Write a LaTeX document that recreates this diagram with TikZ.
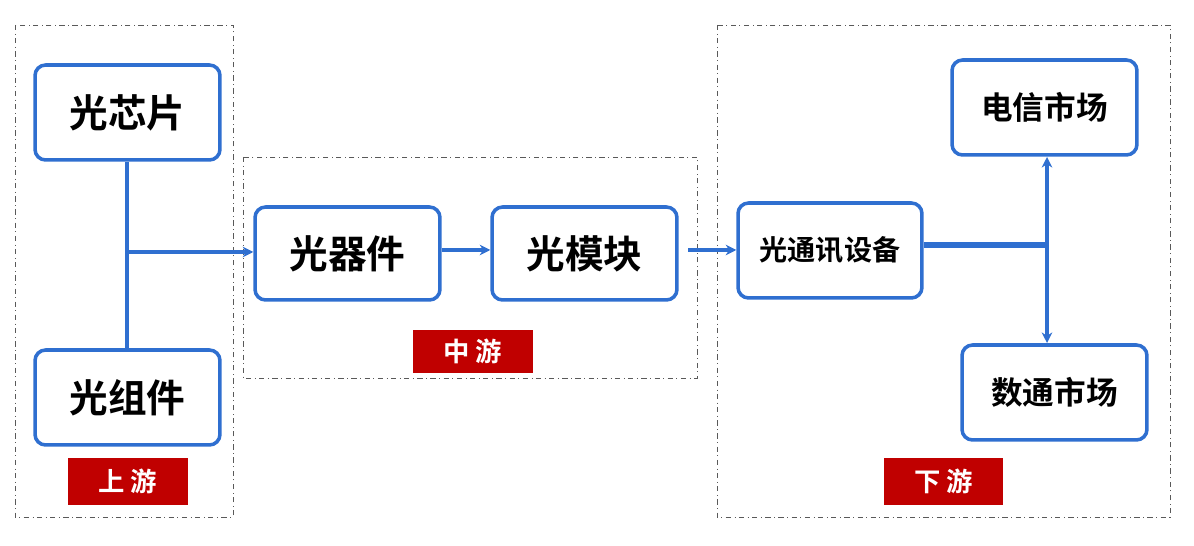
\documentclass[tikz,border=0pt]{standalone}
\usepackage{fontspec}
\newfontfamily\cjk{Noto Sans CJK SC Bold}
\newfontfamily\cjkb{Noto Sans CJK SC Bold}
\usetikzlibrary{arrows.meta}
\definecolor{bl}{HTML}{2F6FD0}
\definecolor{rd}{HTML}{C00000}
\tikzset{
 px/.style={x=0.02cm,y=-0.02cm},
 bx/.style={draw=bl,line width=2pt,rounded corners=6pt,fill=white,font=\cjk,text=black},
 grp/.style={draw=gray!70!black,dash pattern=on 3pt off 2pt on 0.5pt off 2pt,line width=0.5pt},
 tag/.style={fill=rd,text=white,font=\cjkb\fontsize{15}{15}\selectfont},
 con/.style={draw=bl,line width=2.2pt},
 arr/.style={con,-{Stealth[length=6pt,width=6pt]}}
}
\begin{document}
\begin{tikzpicture}[px]
\useasboundingbox (0,0) rectangle (1194,546);
\draw[grp] (15,25) rectangle (233,517);
\draw[grp] (243,157) rectangle (697,378);
\draw[grp] (717,25) rectangle (1170,517);
\node[bx,minimum width=3.7cm,minimum height=1.9cm,font=\cjk\fontsize{22}{22}\selectfont] (a) at (127.5,112.5) {光芯片};
\node[bx,minimum width=3.7cm,minimum height=1.9cm,font=\cjk\fontsize{22}{22}\selectfont] (b) at (127.5,397.5) {光组件};
\node[bx,minimum width=3.7cm,minimum height=1.86cm,font=\cjk\fontsize{22}{22}\selectfont] (c) at (347.5,253.5) {光器件};
\node[bx,minimum width=3.7cm,minimum height=1.86cm,font=\cjk\fontsize{22}{22}\selectfont] (d) at (584.5,253.5) {光模块};
\node[bx,minimum width=3.68cm,minimum height=1.9cm,font=\cjk\fontsize{16}{16}\selectfont] (e) at (830,250.5) {光通讯设备};
\node[bx,minimum width=3.7cm,minimum height=1.9cm,font=\cjk\fontsize{18}{18}\selectfont] (f) at (1044.5,107.5) {电信市场};
\node[bx,minimum width=3.7cm,minimum height=1.9cm,font=\cjk\fontsize{18}{18}\selectfont] (g) at (1054.5,392.5) {数通市场};
\node[tag,minimum width=2.4cm,minimum height=0.94cm] (t1) at (128,481.5) {上 游};
\node[tag,minimum width=2.4cm,minimum height=0.86cm] (t2) at (473,351.5) {中 游};
\node[tag,minimum width=2.38cm,minimum height=0.94cm] (t3) at (943.5,481.5) {下 游};
\coordinate (j) at (127,252);
\draw[con] (a.south -| j) -- (b.north -| j);
\draw[arr] (j) -- (c.west |- j);
\draw[arr] (c.east |- 0,250) -- (d.west |- 0,250);
\coordinate (m) at (688,250);
\draw[arr] (m) -- (e.west |- m);
\coordinate (k) at (1047,245);
\draw[draw=bl,line width=3.6pt] (e.east |- k) -- (k);
\draw[con,{Stealth[length=6pt,width=6pt]}-{Stealth[length=6pt,width=6pt]}] (1047,157) -- (1047,343);
\end{tikzpicture}
\end{document}
